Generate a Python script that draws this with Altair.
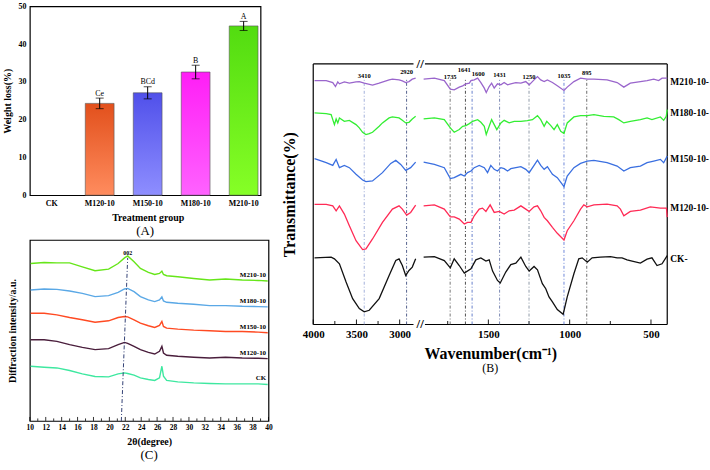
import altair as alt
import pandas as pd

FONT = "Liberation Serif"

# ================= Panel (A): weight loss =================
groups = ["CK", "M120-10", "M150-10", "M180-10", "M210-10"]
weight_loss = [0.0, 24.3, 27.1, 32.6, 44.8]
weight_err = [0.0, 1.4, 1.6, 1.8, 1.2]
sig_letters = ["", "Ce", "BCd", "B", "A"]
bar_top_colors = ["#ffffff", "#e2501c", "#5050ea", "#ff1ef6", "#52dc10"]
bar_bottom_colors = ["#ffffff", "#ff8c5e", "#8e8eff", "#ff62ff", "#86ff26"]

# ================= Panel (B): FTIR spectra =================
ftir_series = ["M210-10", "M180-10", "M150-10", "M120-10", "CK"]
ftir_colors = ["#9a66cc", "#33ee33", "#3a6fe0", "#ff2a55", "#111111"]
ftir_label_y = [244, 213, 166, 117, 66]

m210_wn = [3985, 3850, 3774, 3743, 3716, 3697, 3640, 3582, 3505, 3467, 3410, 3314, 3237, 3122, 3084, 3007, 2969, 2930, 2892, 2854, 2815,
           1898, 1832, 1771, 1734, 1710, 1679, 1658, 1638, 1617, 1607, 1587, 1566, 1546, 1525, 1513, 1495, 1480, 1464, 1444, 1423,
           1403, 1382, 1362, 1331, 1300, 1270, 1249, 1219, 1198, 1178, 1157, 1137, 1106, 1076, 1035, 1015, 974, 933, 892, 851,
           770, 708, 667, 627, 565, 524, 483, 453, 432, 400]
m210_t = [245.3, 245.3, 243.3, 239.3, 244.0, 242.0, 244.0, 242.7, 244.0, 244.3, 242.7, 240.7, 242.7, 246.0, 246.7, 246.0, 245.0, 243.3, 244.3, 246.7, 247.7,
          246.7, 247.7, 245.3, 236.7, 236.0, 238.7, 240.0, 242.0, 242.7, 245.3, 246.0, 247.7, 243.3, 237.7, 233.3, 239.3, 242.7, 237.7, 242.0, 241.0,
          243.3, 241.0, 242.0, 243.3, 242.7, 244.3, 241.0, 246.0, 249.3, 246.0, 244.3, 246.0, 243.3, 240.0, 235.3, 238.7, 244.3, 247.7, 246.7, 246.7,
          246.0, 243.3, 238.7, 242.7, 244.3, 245.3, 246.7, 245.3, 247.7, 247.7]

m180_wn = [3985, 3850, 3793, 3755, 3735, 3716, 3697, 3640, 3582, 3505, 3467, 3429, 3390, 3352, 3314, 3237, 3199, 3122, 3084, 3007, 2969, 2930, 2892, 2854, 2815,
           1898, 1832, 1771, 1734, 1710, 1679, 1658, 1638, 1617, 1597, 1566, 1546, 1525, 1513, 1495, 1480, 1464, 1448, 1423, 1403,
           1372, 1341, 1300, 1260, 1229, 1198, 1178, 1157, 1141, 1116, 1096, 1076, 1055, 1035, 1015, 974, 933, 892, 851, 790,
           729, 698, 667, 627, 565, 524, 494, 442, 422, 406, 400]
m180_t = [212.7, 212.0, 211.0, 201.0, 206.7, 202.7, 207.7, 204.3, 205.3, 201.0, 197.7, 193.3, 191.0, 192.0, 193.3, 199.3, 202.7, 207.7, 208.7, 207.7, 205.3, 202.7, 203.3, 206.7, 209.3,
          206.7, 207.7, 206.0, 197.7, 193.3, 196.0, 199.3, 200.0, 202.0, 204.3, 206.0, 203.3, 199.3, 191.0, 199.3, 206.0, 201.0, 196.0, 202.7, 205.3,
          202.7, 204.3, 204.3, 205.0, 206.0, 210.0, 206.0, 199.3, 204.3, 200.0, 196.0, 201.0, 194.3, 192.0, 202.7, 208.7, 210.0, 210.0, 211.0, 209.3,
          208.7, 206.0, 202.7, 204.3, 206.0, 207.7, 206.0, 208.7, 205.3, 209.3, 216.0]

m150_wn = [3985, 3850, 3774, 3735, 3697, 3640, 3582, 3505, 3429, 3390, 3314, 3199, 3103, 3045, 2988, 2930, 2873, 2815,
           1898, 1832, 1771, 1734, 1710, 1669, 1648, 1628, 1607, 1587, 1556, 1525, 1505, 1485, 1464, 1444, 1423, 1403, 1382, 1362,
           1331, 1300, 1270, 1249, 1219, 1198, 1178, 1157, 1137, 1106, 1076, 1035, 1015, 974, 933, 892, 851, 770, 708, 667,
           627, 565, 524, 483, 442, 422, 400]
m150_t = [166.7, 162.7, 160.0, 166.0, 157.7, 160.0, 157.7, 151.0, 145.3, 143.7, 144.3, 152.7, 162.0, 165.0, 161.0, 155.0, 157.7, 163.3,
          163.3, 161.0, 157.7, 146.7, 147.7, 151.0, 149.3, 152.7, 154.3, 157.7, 160.0, 157.7, 152.7, 160.0, 156.0, 154.3, 157.7, 156.7, 154.3, 156.7,
          157.7, 158.7, 156.0, 152.7, 160.0, 165.3, 160.0, 156.0, 158.7, 151.0, 147.7, 138.7, 149.3, 157.7, 162.0, 164.3, 165.0, 162.7, 159.3, 154.3,
          157.7, 159.3, 162.7, 164.3, 166.0, 162.7, 169.3]

m120_wn = [3985, 3850, 3774, 3735, 3697, 3640, 3582, 3505, 3429, 3390, 3314, 3199, 3084, 3007, 2969, 2919, 2873, 2815,
           1898, 1832, 1771, 1734, 1710, 1679, 1648, 1628, 1607, 1587, 1556, 1536, 1515, 1489, 1464, 1433, 1403, 1372, 1341, 1300,
           1270, 1249, 1219, 1198, 1178, 1157, 1137, 1106, 1076, 1035, 1015, 974, 933, 913, 892, 851, 770, 708, 688, 667,
           627, 565, 504, 442, 405, 400]
m120_t = [120.7, 120.7, 119.3, 114.3, 119.3, 111.0, 99.3, 84.3, 75.3, 76.0, 86.0, 102.7, 116.0, 119.3, 116.0, 110.0, 112.7, 120.0,
          119.3, 120.3, 116.0, 108.3, 108.3, 106.0, 101.0, 102.7, 102.7, 109.3, 116.0, 117.0, 113.7, 120.3, 112.7, 113.7, 111.0, 114.3, 115.0, 119.3,
          116.0, 113.7, 118.3, 119.3, 114.3, 107.7, 104.3, 97.7, 91.7, 85.0, 94.3, 104.3, 116.0, 120.3, 118.3, 120.3, 121.0, 119.3, 116.0, 109.3,
          113.7, 115.0, 118.3, 117.0, 117.0, 108.0]

ck_wn = [3985, 3793, 3755, 3697, 3620, 3544, 3467, 3410, 3352, 3237, 3122, 3045, 3007, 2969, 2930, 2892, 2854, 2815,
         1898, 1832, 1771, 1734, 1710, 1679, 1648, 1607, 1577, 1546, 1515, 1495, 1474, 1444, 1427, 1393, 1362, 1331, 1300, 1270,
         1249, 1219, 1198, 1168, 1147, 1127, 1106, 1076, 1040, 1015, 974, 944, 923, 892, 862, 811, 749, 708, 678, 647,
         616, 565, 524, 494, 463, 432, 400]
ck_t = [67.0, 67.7, 66.0, 61.0, 42.7, 26.0, 16.0, 12.7, 14.3, 26.0, 49.3, 64.3, 66.0, 59.3, 49.3, 54.3, 57.7, 66.0,
        67.7, 68.3, 64.3, 57.0, 66.0, 59.3, 51.7, 56.0, 65.0, 67.0, 63.7, 65.0, 53.7, 44.3, 41.7, 52.7, 60.3, 61.7, 67.7, 58.3,
        53.7, 58.3, 55.0, 41.0, 36.0, 27.7, 22.7, 15.0, 10.3, 27.7, 51.0, 66.0, 67.0, 62.7, 67.0, 67.7, 68.3, 67.0, 67.0, 65.0,
        63.7, 61.7, 65.7, 67.0, 59.3, 61.0, 69.3]

ftir_peaks = [3410, 2920, 1735, 1641, 1600, 1431, 1250, 1035, 895]
ftir_peak_label_x = [3410, 2920, 1735, 1648, 1562, 1431, 1250, 1035, 895]
ftir_peak_label_y = [250, 254.3, 249.3, 255.5, 251.5, 251, 249.3, 250, 253.3]
ftir_peak_colors = ["#8a9ad0", "#2a3a70", "#555555", "#222222", "#4060c0", "#5a6aa0", "#708090", "#4a6ad0", "#444444"]
ftir_ticks_major = [4000, 3500, 3000, 1500, 1000, 500]
ftir_ticks_minor = [3750, 3250, 1750, 1250, 750]

# ================= Panel (C): XRD patterns =================
xrd_series = ["M210-10", "M180-10", "M150-10", "M120-10", "CK"]
xrd_colors = ["#66e619", "#5aa8e6", "#ff4a22", "#4a1e3c", "#3ee8a0"]
xrd_2theta = [10.1, 11.8, 13.4, 15.0, 16.6, 18.2, 19.9, 21.1, 21.9, 22.3, 23.1, 23.9, 24.9,
              25.7, 26.3, 26.6, 26.8, 27.2, 28.6, 30.6, 32.6, 34.6, 36.7, 38.7, 39.9]
xrd_m210 = [158.3, 159.3, 159.0, 159.0, 155.0, 151.0, 152.7, 158.3, 164.0, 166.0, 160.0, 153.3, 149.3,
            147.3, 148.3, 150.7, 147.3, 146.0, 145.0, 143.3, 141.7, 142.7, 141.7, 141.3, 140.7]
xrd_m180 = [131.7, 132.7, 132.3, 130.7, 128.3, 125.0, 126.0, 129.3, 132.7, 133.3, 130.0, 125.0, 121.7,
            120.0, 121.7, 124.7, 120.7, 119.3, 118.3, 117.3, 116.0, 116.0, 115.3, 115.0, 114.7]
xrd_m150 = [108.3, 108.3, 106.7, 104.0, 101.7, 99.3, 100.7, 104.0, 105.0, 104.7, 101.7, 98.3, 95.7,
            94.0, 96.0, 100.0, 95.0, 93.3, 92.3, 91.3, 90.7, 90.0, 90.0, 89.3, 88.7]
xrd_m120 = [81.7, 81.7, 80.0, 76.7, 74.0, 71.7, 72.7, 76.7, 79.0, 78.0, 75.0, 71.7, 69.0,
            67.3, 70.0, 75.0, 68.3, 66.0, 65.0, 64.0, 63.3, 64.0, 63.3, 63.0, 62.7]
xrd_ck = [55.0, 54.0, 53.3, 50.7, 47.3, 44.7, 44.3, 47.3, 48.3, 47.7, 46.0, 43.3, 41.7,
          40.7, 43.3, 55.0, 45.0, 40.7, 39.3, 38.3, 37.7, 37.3, 37.3, 37.3, 36.7]
xrd_peak_line_2theta = [21.5, 22.3]
xrd_peak_line_v = [0, 164]
xrd_peak_label = "002"

# ------------------------------------------------------------------
label_font = dict(labelFont=FONT, titleFont=FONT, labelFontWeight="bold", titleFontWeight="bold",
                  labelColor="black", titleColor="black")

# ---------- Panel A ----------
dfA = pd.DataFrame({"group": groups, "loss": weight_loss, "err": weight_err, "letter": sig_letters})
dfA["lo"] = dfA["loss"] - dfA["err"]
dfA["hi"] = dfA["loss"] + dfA["err"]

scaleXA = alt.Scale(domain=groups, range=[0, 237], paddingInner=0.4, paddingOuter=0.156)
axisXA = alt.Axis(title="Treatment group", labelAngle=0, ticks=False, domain=False, labelFontSize=8,
                  titleFontSize=10, labelPadding=4, titlePadding=5, **label_font)
scaleYA = alt.Scale(domain=[0, 50], nice=False)
axisYA = alt.Axis(title="Weight loss(%)", values=[0, 10, 20, 30, 40, 50], ticks=False, domain=False,
                  labelFontSize=8, titleFontSize=10, labelPadding=4, titlePadding=5, **label_font)


def xA():
    return alt.X("group:N", sort=groups, scale=scaleXA, axis=axisXA)


def yA(field):
    return alt.Y(f"{field}:Q", scale=scaleYA, axis=axisYA)


layersA = []
for g, v, c1, c2 in zip(groups, weight_loss, bar_top_colors, bar_bottom_colors):
    if v <= 0:
        continue
    grad = alt.Gradient(gradient="linear", x1=0, x2=0, y1=0, y2=1,
                        stops=[alt.GradientStop(color=c1, offset=0), alt.GradientStop(color=c2, offset=1)])
    layersA.append(
        alt.Chart(dfA).transform_filter(alt.datum.group == g)
        .mark_bar(color=grad, stroke="#555555", strokeWidth=0.6)
        .encode(x=xA(), y=yA("loss"))
    )
errA = dfA[dfA["err"] > 0]
layersA.append(alt.Chart(errA).mark_rule(color="black", strokeWidth=1).encode(x=xA(), y=yA("lo"), y2="hi:Q"))
layersA.append(alt.Chart(errA).mark_tick(color="black", thickness=1, size=8).encode(x=xA(), y=yA("lo")))
layersA.append(alt.Chart(errA).mark_tick(color="black", thickness=1, size=8).encode(x=xA(), y=yA("hi")))
layersA.append(alt.Chart(errA).mark_text(font=FONT, fontSize=8, baseline="bottom", dy=-0.5, color="black")
               .encode(x=xA(), y=yA("hi"), text="letter:N"))

chartA = alt.layer(*layersA).properties(
    width=232, height=190,
    title=alt.TitleParams("(A)", orient="bottom", font=FONT, fontSize=13, fontWeight="normal", offset=3, color="black"),
)

# ---------- Panel C ----------
rowsC = []
for s, col, vals in zip(xrd_series, xrd_colors, [xrd_m210, xrd_m180, xrd_m150, xrd_m120, xrd_ck]):
    assert len(vals) == len(xrd_2theta)
    for t, v in zip(xrd_2theta, vals):
        rowsC.append({"series": s, "col": col, "theta": t, "v": v})
dfC = pd.DataFrame(rowsC)
dfCl = pd.DataFrame({"series": xrd_series, "theta": [39.7] * 5,
                     "v": [vals[-1] for vals in [xrd_m210, xrd_m180, xrd_m150, xrd_m120, xrd_ck]]})

scaleXC = alt.Scale(domain=[10, 40], nice=False, zero=False)
axisXC = alt.Axis(values=list(range(10, 41, 2)), title="2θ(degree)", ticks=False, domain=False, labelFlush=False,
                  labelFontSize=7.5, titleFontSize=10, labelPadding=3, titlePadding=5, format="d", **label_font)
scaleYC = alt.Scale(domain=[0, 182], nice=False, zero=False)
axisYC = alt.Axis(title="Diffraction intensity/a.u.", labels=False, ticks=False, domain=False,
                  titleFontSize=10, titlePadding=12, **label_font)


def xC(field):
    return alt.X(f"{field}:Q", scale=scaleXC, axis=axisXC)


def yC(field):
    return alt.Y(f"{field}:Q", scale=scaleYC, axis=axisYC)


dfCpk = pd.DataFrame({"x": [xrd_peak_line_2theta[0]], "x2": [xrd_peak_line_2theta[1]],
                      "y": [xrd_peak_line_v[0]], "y2": [xrd_peak_line_v[1]], "lab": [xrd_peak_label]})
dfCticks = pd.DataFrame({"t": list(range(10, 41)), "y": [0] * 31,
                         "y2": [4 if t % 2 == 0 else 2.5 for t in range(10, 41)]})

chartC = alt.layer(
    alt.Chart(dfCticks).mark_rule(color="black", strokeWidth=0.8).encode(x=xC("t"), y=yC("y"), y2="y2:Q"),
    alt.Chart(dfC).mark_line(strokeWidth=1.4).encode(x=xC("theta"), y=yC("v"),
                                                     color=alt.Color("col:N", scale=None), detail="series:N"),
    alt.Chart(dfCpk).mark_rule(color="#1c2c66", strokeWidth=0.9, strokeDash=[4, 2, 1, 2])
    .encode(x=xC("x"), x2="x2:Q", y=yC("y"), y2="y2:Q"),
    alt.Chart(dfCpk).mark_text(font=FONT, fontSize=6, fontWeight="bold", baseline="bottom", dy=-2, color="black")
    .encode(x=xC("x2"), y=yC("y2"), text="lab:N"),
    alt.Chart(dfCl).mark_text(font=FONT, fontSize=7, fontWeight="bold", align="right", dy=-6, color="black")
    .encode(x=xC("theta"), y=yC("v"), text="series:N"),
).properties(
    width=240, height=182,
    title=alt.TitleParams("(C)", orient="bottom", font=FONT, fontSize=13, fontWeight="normal", offset=3, color="black"),
)

# ---------- Panel B ----------
rowsB = []
for s, col, wn, tv in zip(ftir_series, ftir_colors, [m210_wn, m180_wn, m150_wn, m120_wn, ck_wn],
                          [m210_t, m180_t, m150_t, m120_t, ck_t]):
    assert len(wn) == len(tv), s
    for w, v in zip(wn, tv):
        rowsB.append({"series": s, "col": col, "wn": w, "t": v, "seg": "high" if w > 2300 else "low"})
dfB = pd.DataFrame(rowsB)

scaleXB = alt.Scale(domain=[4000, 2800, 1900, 400], range=[0, 104.3, 110.7, 356], nice=False, zero=False)
axisXB = alt.Axis(values=ftir_ticks_major, title="Wavenumber(cm⁻¹)", ticks=False, domain=False, labelFlush=False,
                  labelFontSize=11, titleFontSize=16, labelPadding=4, titlePadding=6, format="d", **label_font)
scaleYB = alt.Scale(domain=[0, 262], nice=False, zero=False)
axisYB = alt.Axis(title="Transmittance(%)", labels=False, ticks=False, domain=False, titleFontSize=16,
                  titlePadding=16, **label_font)


def xB(field):
    return alt.X(f"{field}:Q", scale=scaleXB, axis=axisXB)


def yB(field):
    return alt.Y(f"{field}:Q", scale=scaleYB, axis=axisYB)


dfFrame = pd.DataFrame({"x": [4000, 1890, 4000, 1890, 4000, 400],
                        "x2": [2840, 400, 2840, 400, 4000, 400],
                        "y": [0, 0, 262, 262, 0, 0],
                        "y2": [0, 0, 262, 262, 262, 262]})
dfBreak = pd.DataFrame({"x": [2350, 2350], "y": [0, 262], "s": ["//", "//"]})
dfBticks = pd.DataFrame({"x": ftir_ticks_major + ftir_ticks_minor,
                         "y": [0] * (len(ftir_ticks_major) + len(ftir_ticks_minor)),
                         "y2": [5] * len(ftir_ticks_major) + [3.5] * len(ftir_ticks_minor)})
dfPeaks = pd.DataFrame({"wn": ftir_peaks, "lx": ftir_peak_label_x, "ly": ftir_peak_label_y,
                        "lab": [str(p) for p in ftir_peaks], "col": ftir_peak_colors,
                        "y0": [0] * len(ftir_peaks), "y1": [247] * len(ftir_peaks)})
dfBl = pd.DataFrame({"series": [s + "-" for s in ftir_series], "wn": [400] * 5, "t": ftir_label_y})

chartB = alt.layer(
    alt.Chart(dfFrame).mark_rule(color="black", strokeWidth=1.2).encode(x=xB("x"), x2="x2:Q", y=yB("y"), y2="y2:Q"),
    alt.Chart(dfBticks).mark_rule(color="black", strokeWidth=0.9).encode(x=xB("x"), y=yB("y"), y2="y2:Q"),
    alt.Chart(dfPeaks).mark_rule(strokeWidth=0.8, strokeDash=[3, 2, 1, 2])
    .encode(x=xB("wn"), y=yB("y0"), y2="y1:Q", color=alt.Color("col:N", scale=None)),
    alt.Chart(dfB).mark_line(strokeWidth=1.3).encode(x=xB("wn"), y=yB("t"), color=alt.Color("col:N", scale=None),
                                                     detail=alt.Detail(["series:N", "seg:N"])),
    alt.Chart(dfPeaks).mark_text(font=FONT, fontSize=6.5, fontWeight="bold", color="black")
    .encode(x=xB("lx"), y=yB("ly"), text="lab:N"),
    alt.Chart(dfBl).mark_text(font=FONT, fontSize=9.5, fontWeight="bold", align="left", dx=3, color="black")
    .encode(x=xB("wn"), y=yB("t"), text="series:N"),
    alt.Chart(dfBreak).mark_text(font=FONT, fontSize=13, fontWeight="bold", color="black")
    .encode(x=xB("x"), y=yB("y"), text="s:N"),
).properties(
    width=356, height=262,
    view=alt.ViewBackground(stroke=None),
    title=alt.TitleParams("(B)", orient="bottom", font=FONT, fontSize=12, fontWeight="normal", offset=2, color="black"),
)

spacer = alt.Chart(pd.DataFrame({"a": [0]})).mark_point(opacity=0, size=1).encode(
    x=alt.value(2), y=alt.value(2)
).properties(width=5, height=52, view=alt.ViewBackground(stroke=None))

left = alt.vconcat(chartA, chartC, spacing=0)
right = alt.vconcat(spacer, chartB, spacing=0)

chart = alt.hconcat(left, right, spacing=8).properties(
    padding={"left": 2, "top": 0, "right": 0, "bottom": 0},
    background="white",
).configure_view(stroke="black", strokeWidth=1.2).configure_axis(grid=False)

chart.save("out.html", embed_options={"renderer": "svg", "actions": False})
